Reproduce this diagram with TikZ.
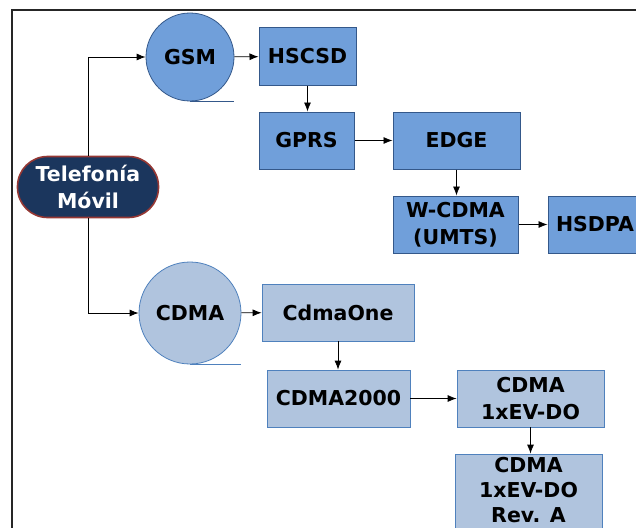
\documentclass[tikz,border=0pt]{standalone}
\usepackage{fontspec}
\setmainfont{DejaVu Sans}
\usepackage{xcolor}
\usetikzlibrary{arrows.meta,positioning}
\definecolor{gsmfill}{RGB}{112,159,218}
\definecolor{gsmline}{RGB}{52,88,138}
\definecolor{cdmafill}{RGB}{176,196,222}
\definecolor{cdmaline}{RGB}{79,129,189}
\definecolor{rootfill}{RGB}{27,54,93}
\definecolor{rootline}{RGB}{150,56,52}

\begin{document}
\begin{tikzpicture}[x=1pt,y=-1pt,>={Latex[length=9pt,width=7pt]},
    txt/.style={font=\bfseries\fontsize{20.5}{26.5}\selectfont,align=center,inner sep=1pt},
    gsmbox/.style={txt,rectangle,draw=gsmline,fill=gsmfill,line width=1pt,minimum height=57pt},
    cdmabox/.style={txt,rectangle,draw=cdmaline,fill=cdmafill,line width=0.8pt,minimum height=57pt},
    root/.style={txt,rectangle,rounded corners=30pt,draw=rootline,fill=rootfill,text=white,line width=1.6pt},
    link/.style={->,line width=0.8pt}]
    \clip (0,0) rectangle (636,527);

    % marco
    \draw[line width=2pt,black!85] (12,560) -- (12,10) -- (660,10);

    \node[root,minimum width=141pt,minimum height=61pt] (T) at (88,187) {Telefonía\\Móvil};

    % rama GSM
    \node[gsmbox,circle,minimum size=88pt,line width=0.8pt] (GSM) at (190,57) {GSM};
    \node[gsmbox,minimum width=97pt] (HSCSD) at (307.5,56.5) {HSCSD};
    \node[gsmbox,minimum width=95pt] (GPRS) at (306.5,140.5) {GPRS};
    \node[gsmbox,minimum width=127pt] (EDGE) at (456.5,140.5) {EDGE};
    \node[gsmbox,minimum width=125pt] (WCDMA) at (455.5,224.5) {W-CDMA\\(UMTS)};
    \node[gsmbox,minimum width=94pt] (HSDPA) at (595,224.5) {HSDPA};
    \draw[gsmline,line width=0.8pt] (GSM.south) -- ++(44,0);

    % rama CDMA
    \node[cdmabox,circle,minimum size=102pt] (CDMA) at (190,313) {CDMA};
    \node[cdmabox,minimum width=152pt] (ONE) at (338,312.5) {CdmaOne};
    \node[cdmabox,minimum width=143pt] (C2K) at (338.5,398.5) {CDMA2000};
    \node[cdmabox,minimum width=147pt] (EVDO) at (530.5,398.5) {CDMA\\1xEV-DO};
    \node[cdmabox,minimum width=147pt,minimum height=90pt,
          label={[txt,yshift=9pt,font=\bfseries\fontsize{20.5}{25}\selectfont]center:{CDMA\\1xEV-DO\\Rev. A}}]
          (REVA) at (528.5,499) {};
    \draw[cdmaline,line width=0.8pt] (CDMA.south) -- ++(51,0);

    % conexiones
    \draw[link] (T.north) |- (GSM.west);
    \draw[link] (T.south) |- (CDMA.west);
    \foreach \s/\d in {GSM/HSCSD, GPRS/EDGE, WCDMA/HSDPA, CDMA/ONE, C2K/EVDO}{
        \draw[link] (\s) -- (\d);
    }
    \foreach \s/\d in {HSCSD/GPRS, EDGE/WCDMA, ONE/C2K, EVDO/REVA}{
        \draw[link] (\s.south) -- (\s.south |- \d.north);
    }
\end{tikzpicture}
\end{document}
